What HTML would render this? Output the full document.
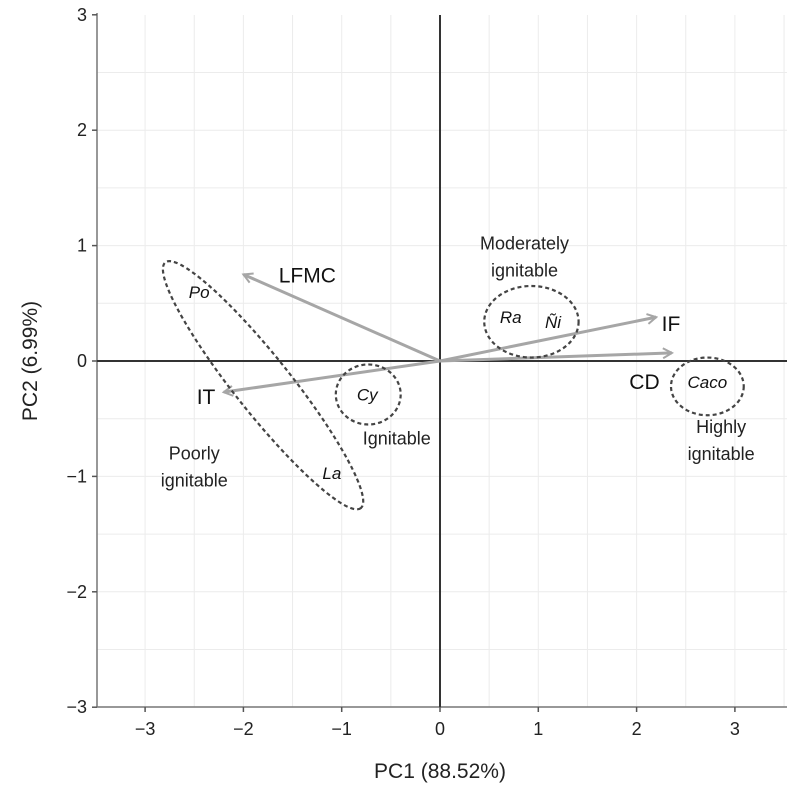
<!DOCTYPE html>
<html><head><meta charset="utf-8"><style>
body{margin:0;background:#fff;}
svg{display:block;font-family:"Liberation Sans",Arial,sans-serif;}
</style></head><body>
<svg id="chart" width="800" height="790" viewBox="0 0 800 790">
<defs><marker id="ah" viewBox="0 0 12 12" refX="10" refY="6" markerWidth="12" markerHeight="12" markerUnits="userSpaceOnUse" orient="auto"><path d="M1,1 L10,6 L1,11" fill="none" stroke="#a6a6a6" stroke-width="2"/></marker></defs>
<g id="grid"></g><g id="axes"></g><g id="marks"></g><g id="labels"></g>
</svg>
<script>
const xTicks=[-3,-2,-1,0,1,2,3];
const yTicks=[-3,-2,-1,0,1,2,3];
const arrowNames=["LFMC","IT","IF","CD"];
const arrowX=[-2.0,-2.2,2.2,2.36];
const arrowY=[0.75,-0.27,0.38,0.07];
const arrowLabelX=[-1.35,-2.38,2.35,2.08];
const arrowLabelY=[0.74,-0.31,0.32,-0.18];
const speciesNames=["Po","La","Cy","Ra","Ñi","Caco"];
const speciesX=[-2.45,-1.1,-0.74,0.72,1.15,2.72];
const speciesY=[0.6,-0.97,-0.29,0.38,0.34,-0.18];
const ellipseCX=[-1.8,-0.73,0.93,2.72];
const ellipseCY=[-0.21,-0.29,0.34,-0.22];
const ellipseRX=[1.6,0.33,0.48,0.37];
const ellipseRY=[0.25,0.26,0.31,0.25];
const ellipseAngle=[51.5,0,0,0];
const groupNames=[["Moderately","ignitable"],["Ignitable"],["Highly","ignitable"],["Poorly","ignitable"]];
const groupX=[0.86,-0.44,2.86,-2.5];
const groupY=[1.02,-0.67,-0.57,-0.8];

const X0=97,X1=787,Y0=15,Y1=707;
const sx=v=>440+v*98.3, sy=v=>361-v*115.4;
const NS="http://www.w3.org/2000/svg";
function mk(tag,attrs,parent,txt){const e=document.createElementNS(NS,tag);for(const k in attrs)e.setAttribute(k,attrs[k]);if(txt!==undefined)e.textContent=txt;parent.appendChild(e);return e;}
const grid=document.getElementById('grid'),axes=document.getElementById('axes'),marks=document.getElementById('marks'),labels=document.getElementById('labels');
for(let v=-3.5;v<=3.5;v+=0.5){
 const x=sx(v); if(x>X0&&x<X1){const l=mk('line',{x1:x,x2:x,y1:Y0,y2:Y1,stroke:'#ececec','stroke-width':1},grid);
 
 }
 const y=sy(v); if(y>Y0&&y<Y1){const l=mk('line',{x1:X0,x2:X1,y1:y,y2:y,stroke:'#ececec','stroke-width':1},grid);
 
 }
}
let a=mk('line',{x1:X0,x2:X0,y1:Y0-2,y2:Y1,stroke:'#777','stroke-width':1.5},axes);


a=mk('line',{x1:X0,x2:X1,y1:Y1,y2:Y1,stroke:'#777','stroke-width':1.5},axes);


xTicks.forEach(v=>{mk('line',{x1:sx(v),x2:sx(v),y1:Y1,y2:Y1+5,stroke:'#555','stroke-width':1.5},axes);
 const t=mk('text',{x:sx(v),y:Y1+28,'text-anchor':'middle','font-size':18,fill:'#222'},axes,v<0?'\u2212'+(-v):v);
 
 });
yTicks.forEach(v=>{mk('line',{x1:X0-5,x2:X0,y1:sy(v),y2:sy(v),stroke:'#555','stroke-width':1.5},axes);
 const t=mk('text',{x:X0-10,y:sy(v)+6,'text-anchor':'end','font-size':18,fill:'#222'},axes,v<0?'\u2212'+(-v):v);
 
 });
a=mk('line',{x1:sx(0),x2:sx(0),y1:Y0,y2:Y1,stroke:'#333','stroke-width':2},axes);


a=mk('line',{x1:X0,x2:X1,y1:sy(0),y2:sy(0),stroke:'#333','stroke-width':2},axes);


let t=mk('text',{x:440,y:778,'text-anchor':'middle','font-size':21,fill:'#222'},axes,'PC1 (88.52%)');


t=mk('text',{x:0,y:0,transform:'translate(37,361) rotate(-90)','text-anchor':'middle','font-size':21,fill:'#222'},axes,'PC2 (6.99%)');


arrowNames.forEach((n,i)=>{
 const l=mk('line',{x1:sx(0),y1:sy(0),x2:sx(arrowX[i]),y2:sy(arrowY[i]),stroke:'#a6a6a6','stroke-width':3,'marker-end':'url(#ah)'},marks);
 
 
 const tx=mk('text',{x:sx(arrowLabelX[i]),y:sy(arrowLabelY[i])+7,'text-anchor':'middle','font-size':21,fill:'#111'},labels,n);
 
 
});
ellipseCX.forEach((c,i)=>{
 const rx=ellipseRX[i]*98.3, ry=ellipseRY[i]*115.4;
 const e=mk('ellipse',{cx:sx(c),cy:sy(ellipseCY[i]),rx:i===0?157:rx,ry:i===0?28:ry,transform:`rotate(${ellipseAngle[i]} ${sx(c)} ${sy(ellipseCY[i])})`,fill:'none',stroke:'#444','stroke-width':2.2,'stroke-dasharray':'4 3'},marks);
 
 
});
speciesNames.forEach((n,i)=>{
 const tx=mk('text',{x:sx(speciesX[i]),y:sy(speciesY[i])+6,'text-anchor':'middle','font-size':17,'font-style':'italic',fill:'#111'},labels,n);
 
 
});
groupNames.forEach((lines,i)=>{
 lines.forEach((s,j)=>{
 const tx=mk('text',{x:sx(groupX[i]),y:sy(groupY[i])+6+j*27,'text-anchor':'middle','font-size':18,fill:'#222'},labels,s);
 
 
 });
});
</script>
</body></html>
